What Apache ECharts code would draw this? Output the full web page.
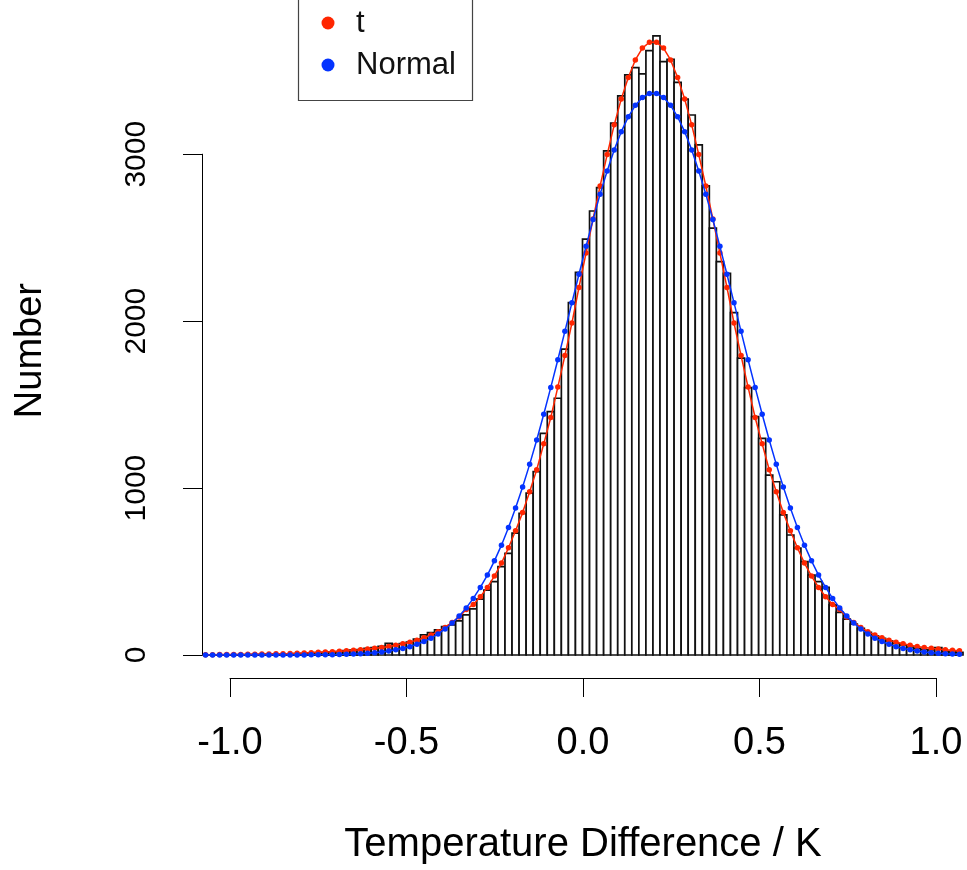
<!DOCTYPE html>
<html>
<head>
<meta charset="utf-8">
<script src="https://cdn.jsdelivr.net/npm/echarts@6/dist/echarts.min.js"></script>
<style>
html,body{margin:0;padding:0;background:#fff;}
#chart{width:967px;height:870px;}
</style>
</head>
<body>
<div id="chart"></div>
<script>
// ---- data ----
const binStart = -1.08;   // left edge of the first histogram bin
const binWidth = 0.02;    // histogram bin width
// histogram counts, bins from -1.08 to 1.08 (108 bins)
const counts = [
  0, 1, 0, 1, 1, 2, 1, 3, 2, 4,
  5, 5, 7, 8, 9, 11, 14, 15, 18, 20,
  26, 29, 33, 40, 44, 52, 70, 62, 68, 78,
  96, 120, 134, 150, 170, 180, 205, 240, 276, 335,
  389, 439, 530, 609, 730, 849, 970, 1098, 1328, 1458,
  1538, 1832, 2111, 2292, 2491, 2660, 2800, 3020, 3186, 3349,
  3475, 3519, 3481, 3621, 3709, 3555, 3569, 3430, 3330, 3235,
  3056, 2810, 2557, 2357, 2287, 2051, 1778, 1602, 1428, 1298,
  1078, 1038, 839, 719, 641, 559, 479, 440, 405, 300,
  255, 215, 185, 160, 135, 115, 100, 85, 70, 60,
  48, 40, 33, 30, 45, 22, 18, 16
];
// fitted t curve at bin centres
const tCurve = [
  2, 2.2, 2.5, 2.8, 3.2, 3.6, 4.1, 4.7, 5.3, 6,
  7, 8, 9, 10.5, 12, 14, 16, 18, 20, 23,
  26, 29, 32, 36, 40, 45, 51, 58, 67, 77,
  89, 103, 120, 140, 165, 195, 228, 272, 303, 349,
  405, 473, 551, 642, 744, 853, 978, 1110, 1265, 1423,
  1605, 1794, 1989, 2202, 2408, 2612, 2810, 2998, 3176, 3331,
  3460, 3565, 3636, 3671,
  3671, 3636, 3565, 3460, 3331, 3176, 2998, 2810, 2612, 2408,
  2202, 1989, 1794, 1605, 1423, 1265, 1110, 978, 853, 744,
  642, 551, 473, 405, 349, 303, 272, 228, 195, 165,
  140, 120, 103, 89, 77, 67, 58, 51, 45, 40,
  36, 32, 29, 26
];
// fitted normal curve at bin centres
const normalCurve = [
  0, 0, 0, 0, 0, 0, 0, 0, 0.05, 0.1,
  0.1, 0.2, 0.3, 0.4, 0.6, 0.8, 1.2, 1.6, 2.2, 3.1,
  4.2, 5.7, 7.7, 10.3, 13.7, 18, 23.5, 31, 39, 50,
  64, 81, 101, 126, 156, 191, 233, 282, 339, 405,
  479, 564, 658, 764, 880, 1006, 1142, 1288, 1442, 1603,
  1769, 1939, 2111, 2281, 2448, 2609, 2761, 2900, 3026, 3135,
  3224, 3293, 3340, 3364,
  3364, 3340, 3293, 3224, 3135, 3026, 2900, 2761, 2609, 2448,
  2281, 2111, 1939, 1769, 1603, 1442, 1288, 1142, 1006, 880,
  764, 658, 564, 479, 405, 339, 282, 233, 191, 156,
  126, 101, 81, 64, 50, 39, 31, 23.5, 18, 13.7,
  10.3, 7.7, 5.7, 4.2
];
const xTicks = [-1.0, -0.5, 0.0, 0.5, 1.0];
const yTicks = [0, 1000, 2000, 3000];
const seriesNames = ['t', 'Normal'];
const xTitle = 'Temperature Difference / K';
const yTitle = 'Number';

// ---- build ----
const FONT = "'Liberation Sans', Arial, Helvetica, sans-serif";
const RED = '#ff2600';
const BLUE = '#0433ff';

const histData = counts.map((c, i) => [binStart + i * binWidth, binStart + (i + 1) * binWidth, c]);
const centres = counts.map((c, i) => binStart + (i + 0.5) * binWidth);
const tData = tCurve.map((v, i) => [centres[i], v]);
const nData = normalCurve.map((v, i) => [centres[i], v]);

const chart = echarts.init(document.getElementById('chart'), null, {renderer: 'canvas'});
const option = {
  animation: false,
  backgroundColor: '#fff',
  textStyle: {fontFamily: FONT},
  grid: [
    {left: 202, right: 4, top: 4, bottom: 215},
    {left: 230, right: 31, bottom: 192, height: 1},
    {left: 202, width: 1, top: 154.2, bottom: 215}
  ],
  xAxis: [
    {gridIndex: 0, type: 'value', min: binStart, max: binStart + counts.length * binWidth, show: false},
    {gridIndex: 1, type: 'value', min: xTicks[0], max: xTicks[xTicks.length - 1], interval: 0.5,
      splitLine: {show: false},
      axisLine: {show: true, lineStyle: {color: '#000', width: 1}},
      axisTick: {show: true, length: 19, inside: false, lineStyle: {color: '#000', width: 1}},
      axisLabel: {show: true, fontSize: 38, color: '#000', fontFamily: FONT, margin: 47,
        formatter: v => v.toFixed(1), showMinLabel: true, showMaxLabel: true},
      name: xTitle, nameLocation: 'middle', nameGap: 147,
      nameTextStyle: {fontSize: 40, color: '#000', fontFamily: FONT}
    },
    {gridIndex: 2, type: 'value', show: false}
  ],
  yAxis: [
    {gridIndex: 0, type: 'value', min: 0, max: 3900, show: false},
    {gridIndex: 1, type: 'value', show: false},
    {gridIndex: 2, type: 'value', min: yTicks[0], max: yTicks[yTicks.length - 1], interval: 1000,
      position: 'left',
      splitLine: {show: false},
      axisLine: {show: true, lineStyle: {color: '#000', width: 1}},
      axisTick: {show: true, length: 19, inside: false, lineStyle: {color: '#000', width: 1}},
      axisLabel: {show: true, rotate: 90, fontSize: 30, color: '#000', fontFamily: FONT, margin: 50,
        formatter: v => String(v), showMinLabel: true, showMaxLabel: true}
    }
  ],
  graphic: [
    {type: 'text', left: 12, top: 283, rotation: Math.PI / 2,
      style: {text: yTitle, font: '38px ' + FONT, fill: '#000'}},
    // legend box (top edge lies above the picture, as in the reference)
    {type: 'rect', shape: {x: 298.5, y: -20, width: 174, height: 120.5},
      style: {fill: '#fff', stroke: '#444', lineWidth: 1.2}, z: 50},
    {type: 'circle', shape: {cx: 328, cy: 23, r: 6.5}, style: {fill: RED}, z: 51},
    {type: 'circle', shape: {cx: 328, cy: 65, r: 6.5}, style: {fill: BLUE}, z: 51},
    {type: 'text', x: 356, y: 23, z: 51,
      style: {text: seriesNames[0], font: '31px ' + FONT, fill: '#111', verticalAlign: 'middle'}},
    {type: 'text', x: 356, y: 65, z: 51,
      style: {text: seriesNames[1], font: '31px ' + FONT, fill: '#111', verticalAlign: 'middle'}}
  ],
  series: [
    {
      type: 'custom', name: 'hist', xAxisIndex: 0, yAxisIndex: 0, z: 2,
      data: histData,
      encode: {x: [0, 1], y: 2},
      renderItem: function (params, api) {
        const x0 = api.value(0), x1 = api.value(1), v = api.value(2);
        const p0 = api.coord([x0, v]);
        const p1 = api.coord([x1, 0]);
        return {type: 'rect',
          shape: {x: p0[0], y: p0[1], width: p1[0] - p0[0], height: p1[1] - p0[1]},
          style: {fill: '#fff', stroke: '#111', lineWidth: 1.7}};
      },
      silent: true
    },
    {
      type: 'line', name: seriesNames[0], xAxisIndex: 0, yAxisIndex: 0, z: 3,
      data: tData, symbol: 'circle', symbolSize: 5.5, showSymbol: true,
      itemStyle: {color: RED}, lineStyle: {color: RED, width: 1.5}, silent: true
    },
    {
      type: 'line', name: seriesNames[1], xAxisIndex: 0, yAxisIndex: 0, z: 4,
      data: nData, symbol: 'circle', symbolSize: 5.5, showSymbol: true,
      itemStyle: {color: BLUE}, lineStyle: {color: BLUE, width: 1.5}, silent: true
    }
  ]
};
chart.setOption(option);
</script>
</body>
</html>
